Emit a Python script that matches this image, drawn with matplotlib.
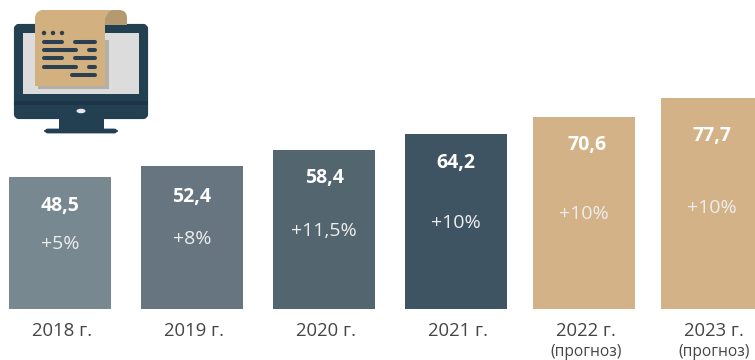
import numpy as np
import matplotlib
matplotlib.use("Agg")
import matplotlib.pyplot as plt
from matplotlib.patches import Rectangle, FancyBboxPatch, Circle, Ellipse, Polygon

# Market volume by year
years = ["2018 г.", "2019 г.", "2020 г.", "2021 г.", "2022 г.", "2023 г."]
values = [48.5, 52.4, 58.4, 64.2, 70.6, 77.7]
value_labels = ["48,5", "52,4", "58,4", "64,2", "70,6", "77,7"]
growth_labels = ["+5%", "+8%", "+11,5%", "+10%", "+10%", "+10%"]
forecast = [False, False, False, False, True, True]

bar_colors = ["#788891", "#66757F", "#53656F", "#3F5463", "#D2B286", "#D2B286"]
TEXT = "#454545"
W, H = 755, 360
BASE_PX = 309
PX_PER_UNIT = 2.72

plt.rcParams["font.family"] = ["Open Sans", "DejaVu Sans"]
fig = plt.figure(figsize=(W / 100, H / 100), dpi=100, facecolor="white")

# Bars: x axis in pixels, forecast years sit a little closer together
ax = fig.add_axes([0, (H - BASE_PX) / H, 1, BASE_PX / H])
ax.set_xlim(0, W)
ax.set_ylim(0, BASE_PX / PX_PER_UNIT)
steps = [128 if f else 132 for f in forecast]
centers = 60 + np.cumsum([0] + steps[1:])
ax.bar(centers, values, width=102, color=bar_colors, linewidth=0)
ax.set_xticks(centers + 2)
ax.set_xticklabels(years, fontsize=13.3, color=TEXT)
ax.tick_params(axis="x", length=0, pad=9.5)
ax.tick_params(axis="y", left=False, labelleft=False)
for s in ax.spines.values():
    s.set_visible(False)
ax.patch.set_alpha(0)

# Overlay in pixel coordinates for annotations and the icon
ov = fig.add_axes([0, 0, 1, 1])
ov.set_xlim(0, W)
ov.set_ylim(H, 0)
ov.axis("off")
ov.patch.set_alpha(0)

value_y = [206, 197, 178, 163, 145, 136]
growth_y = [244, 239, 231, 223, 214, 208]
value_dx = [0, 0, 0, 0, 3, 0]
for c, vl, gl, vy, gy, dx in zip(centers, value_labels, growth_labels, value_y, growth_y, value_dx):
    ov.text(c + dx, vy, vl, color="white", fontsize=14, fontweight="bold", ha="center", va="center")
    ov.text(c, gy, gl, color="#EDEDED", fontsize=14, ha="center", va="center")
for c, f in zip(centers, forecast):
    if f:
        ov.text(c + 2, 352.5, "(прогноз)", color=TEXT, fontsize=11.2, ha="center", va="center")

# Monitor
DARK = "#233F52"
ov.add_patch(FancyBboxPatch((16, 26), 130, 91, boxstyle="round,pad=0,rounding_size=3",
                            fc=DARK, ec=DARK, lw=3))
ov.add_patch(Rectangle((23, 33), 116, 61, fc="#DCDCDC", lw=0))
ov.add_patch(Rectangle((14, 101), 134, 4, fc="#1D3546", lw=0))
ov.add_patch(Ellipse((81, 111), 9, 4.5, fc="#E8E8E8", lw=0))
ov.add_patch(Rectangle((59, 119), 45, 11, fc=DARK, lw=0))
ov.add_patch(FancyBboxPatch((46, 130), 70, 2, boxstyle="round,pad=0,rounding_size=2",
                            fc=DARK, ec=DARK, lw=2))

# Paper roll with its shadow
ov.add_patch(Rectangle((38, 40), 71, 49, fc="#B5B0A5", lw=0))
ov.add_patch(FancyBboxPatch((105, 10), 22, 15, boxstyle="round,pad=0,rounding_size=8",
                            fc="#B49A6E", lw=0))
ov.add_patch(Rectangle((105, 18), 22, 7, fc="#B49A6E", lw=0))
ov.add_patch(Polygon([(43, 10), (110, 10), (105, 18), (105, 86), (35, 86), (35, 18)],
                     closed=True, fc="#D2B080", lw=0))
ov.add_patch(Circle((43, 18), 8, fc="#D2B080", lw=0))

INK = "#2A3F4F"
for x in (44, 53, 62):
    ov.add_patch(Circle((x, 33), 2.2, fc=INK, lw=0))
text_rows = [(42, [(42, 64), (73, 97)]), (50, [(42, 78), (87, 97)]),
             (58, [(42, 64), (73, 97)]), (67, [(42, 78), (87, 97)]),
             (75, [(70, 97)])]
for y, segments in text_rows:
    for x0, x1 in segments:
        ov.plot([x0 + 2, x1 - 2], [y, y], color=INK, lw=2.9, solid_capstyle="round")

fig.savefig("out.png", dpi=100, facecolor="white")
